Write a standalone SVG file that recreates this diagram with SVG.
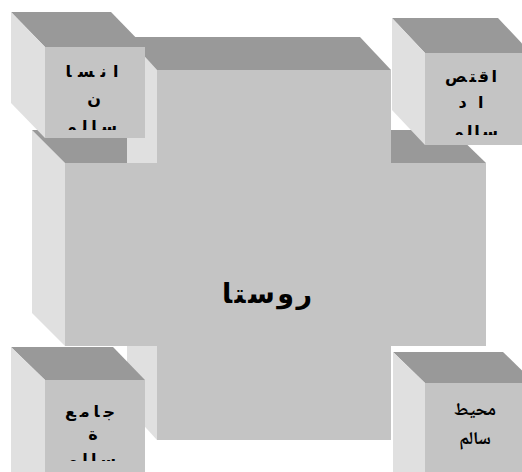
<svg xmlns="http://www.w3.org/2000/svg" width="522" height="472" viewBox="0 0 522 472">
<style>
.top{fill:#999999}
.side{fill:#e0e0e0}
.front{fill:#c4c4c4}
.lbl{font-family:"DejaVu Sans","Noto Sans",sans-serif;font-weight:bold;fill:#000;text-anchor:middle}
.sm{font-size:16px}
.big{font-size:27px}
.nask{font-family:"Noto Naskh Arabic","DejaVu Sans",serif;font-size:18px;font-weight:bold;fill:#000;text-anchor:middle}
</style>
<defs>
<clipPath id="c1"><rect x="45" y="47" width="100" height="83"/></clipPath>
<clipPath id="c2"><rect x="425" y="53" width="97" height="82"/></clipPath>
<clipPath id="c3"><rect x="45" y="380" width="100" height="81"/></clipPath>
</defs>
<g id="village">
<polygon class="side" points="32,130 65,163 65,346 32,313"/>
<polygon class="top" points="32,130 452,130 486,163 65,163"/>
<polygon class="side" points="127,37 157,70 157,440 127,407"/>
<polygon class="top" points="127,37 360,37 391,70 157,70"/>
<rect class="front" x="65" y="163" width="421" height="183"/>
<rect class="front" x="157" y="70" width="234" height="370"/>
<text class="lbl big" x="267" y="303" textLength="90" lengthAdjust="spacing">روستا</text>
</g>
<g id="ensan">
<polygon class="top" points="11,12 111,12 145,47 45,47"/>
<polygon class="side" points="11,12 45,47 45,138 11,103"/>
<rect class="front" x="45" y="47" width="100" height="91"/>
<g clip-path="url(#c1)">
<text class="lbl sm" x="92" y="77" textLength="53" lengthAdjust="spacing">انسا</text>
<text class="lbl sm" x="94" y="104">ن</text>
<text class="lbl sm" x="91" y="132" textLength="52" lengthAdjust="spacing">سالم</text>
</g>
</g>
<g id="eqtesad">
<polygon class="top" points="392,18 498,18 531,53 425,53"/>
<polygon class="side" points="392,18 425,53 425,145 392,110"/>
<rect class="front" x="425" y="53" width="106" height="92"/>
<g clip-path="url(#c2)">
<text class="lbl sm" x="471" y="82" textLength="52" lengthAdjust="spacing">اقتص</text>
<text class="lbl sm" x="471" y="108" textLength="25" lengthAdjust="spacing">اد</text>
<text class="lbl sm" x="475" y="137" textLength="46" lengthAdjust="spacing">سالم</text>
</g>
</g>
<g id="jameah">
<polygon class="top" points="11,347 113,347 145,380 45,380"/>
<polygon class="side" points="11,347 45,380 45,472 11,472"/>
<rect class="front" x="45" y="380" width="100" height="92"/>
<g clip-path="url(#c3)">
<text class="lbl sm" x="90" y="417" textLength="50" lengthAdjust="spacing">جامع</text>
<text class="lbl sm" x="93" y="440">ة</text>
<text class="lbl sm" x="91" y="465" textLength="50" lengthAdjust="spacing">سالم</text>
</g>
</g>
<g id="mohit">
<polygon class="top" points="393,352 503,352 535,383 425,383"/>
<polygon class="side" points="393,352 425,383 425,472 393,472"/>
<rect class="front" x="425" y="383" width="110" height="89"/>
<text class="nask" x="475" y="415">محیط</text>
<text class="nask" x="475" y="444">سالم</text>
</g>
<g id="connectors"></g>
</svg>
